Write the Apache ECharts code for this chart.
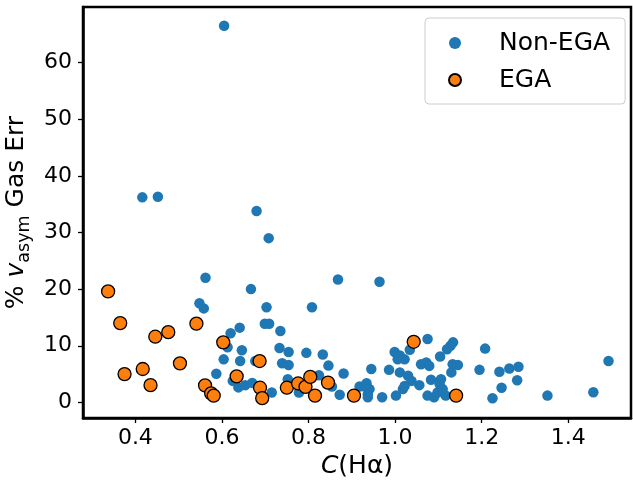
<!DOCTYPE html>
<html>
<head>
<meta charset="utf-8">
<script src="https://cdn.jsdelivr.net/npm/echarts@6/dist/echarts.min.js"></script>
<style>
html,body{margin:0;padding:0;background:#fff;}
#chart{width:633px;height:484px;}
</style>
</head>
<body>
<div id="chart"></div>
<script>
const FONT = 'DejaVu Sans';

const xTicks = [0.4, 0.6, 0.8, 1.0, 1.2, 1.4];
const yTicks = [0, 10, 20, 30, 40, 50, 60];

const nonEgaX = [
  0.605, 0.416, 0.452, 0.680, 0.708, 0.562, 0.868, 0.964, 0.667,
  0.548, 0.558, 0.703, 0.808, 0.699, 0.709, 0.641, 0.735, 0.620, 0.613, 0.646,
  0.733, 0.754, 0.795, 0.833, 0.604, 0.642, 0.677, 0.739, 0.754, 0.846,
  0.881, 0.587, 0.824, 0.625, 0.638, 0.654, 0.670, 0.715, 0.778, 0.854,
  0.872, 0.918, 0.752,
  1.075, 1.134, 1.128, 1.120, 1.208, 0.999, 1.011, 1.034, 1.022, 1.006,
  1.104, 1.060, 1.072, 1.079, 1.133, 1.145, 1.130, 0.945, 0.986, 1.011,
  1.030, 1.038, 1.056, 1.083, 1.106, 1.103, 0.934, 0.930, 0.941, 0.937,
  0.937, 0.970, 1.002, 1.018, 1.022, 1.075, 1.090, 1.098, 1.110, 1.117,
  1.195, 1.241, 1.264, 1.285, 1.282, 1.246, 1.225, 1.352, 1.458, 1.493
];
const nonEgaY = [
  66.5, 36.2, 36.3, 33.8, 29.0, 22.0, 21.7, 21.3, 20.0,
  17.5, 16.6, 16.8, 16.8, 13.9, 13.9, 13.2, 12.6, 12.2, 9.75, 9.2,
  9.6, 8.9, 8.75, 8.45, 7.6, 7.3, 7.3, 6.9, 6.6, 6.5,
  5.1, 5.05, 4.8, 3.8, 2.65, 3.05, 3.45, 1.75, 1.75, 2.8,
  1.35, 2.8, 4.1,
  11.2, 10.6, 10.0, 9.4, 9.5, 8.9, 8.3, 9.3, 7.6, 7.6,
  8.1, 6.75, 7.05, 6.45, 6.75, 6.6, 5.3, 5.9, 5.75, 5.3,
  4.7, 3.8, 3.05, 4.0, 4.1, 3.2, 3.4, 2.8, 2.35, 1.45,
  0.9, 0.9, 1.2, 2.35, 2.9, 1.2, 0.9, 1.75, 2.35, 1.2,
  5.75, 5.4, 6.0, 6.3, 3.9, 2.6, 0.75, 1.2, 1.8, 7.3
];

const egaX = [
  0.337, 0.365, 0.541, 0.476, 0.446, 0.603, 0.687, 0.503, 0.417, 0.375,
  0.634, 0.435, 0.561, 0.575, 0.581, 0.688, 0.693, 0.750, 0.776, 0.793,
  0.804, 0.815, 0.845, 0.905, 1.043, 1.141
];
const egaY = [
  19.6, 14.0, 13.9, 12.4, 11.6, 10.6, 7.3, 6.9, 5.9, 5.0,
  4.6, 3.05, 3.0, 1.6, 1.2, 2.6, 0.75, 2.6, 3.35, 2.75,
  4.5, 1.2, 3.5, 1.2, 10.7, 1.2
];

const nonEga = nonEgaX.map((x, i) => [x, nonEgaY[i]]);
const ega = egaX.map((x, i) => [x, egaY[i]]);

const chart = echarts.init(document.getElementById('chart'), null, {renderer: 'canvas'});
chart.setOption({
  animation: false,
  backgroundColor: '#ffffff',
  grid: {
    left: 83, top: 7, right: 2, bottom: 66,
    containLabel: false,
    outerBoundsMode: 'none',
    show: true, borderColor: '#000', borderWidth: 2.5, backgroundColor: 'transparent'
  },
  legend: {
    orient: 'vertical',
    left: 425, top: 18,
    padding: [11, 15, 10, 23],
    itemGap: 9,
    itemWidth: 22, itemHeight: 12,
    borderColor: '#cccccc', borderWidth: 1, borderRadius: 4,
    backgroundColor: 'rgba(255,255,255,0.8)',
    textStyle: {fontFamily: FONT, fontSize: 25, color: '#000', lineHeight: 28, padding: [0, 0, 0, 28]},
    data: [{name: 'Non-EGA', icon: 'circle'}, {name: 'EGA', icon: 'circle'}]
  },
  xAxis: {
    type: 'value',
    min: 0.279, max: 1.545,
    name: '{i|C}{t|(Hα)}',
    nameLocation: 'middle',
    nameGap: 35,
    nameTextStyle: {
      rich: {
        i: {fontFamily: FONT, fontSize: 25, fontStyle: 'italic', color: '#000'},
        t: {fontFamily: FONT, fontSize: 25, color: '#000'}
      }
    },
    axisLine: {show: true, onZero: false, lineStyle: {color: '#000', width: 2.5}},
    axisTick: {show: true, inside: false, length: 5, lineStyle: {color: '#000', width: 1.3}, customValues: xTicks},
    axisLabel: {
      show: true, margin: 9, fontFamily: FONT, fontSize: 22, color: '#000',
      customValues: xTicks,
      formatter: v => v.toFixed(1)
    },
    splitLine: {show: false}
  },
  yAxis: {
    type: 'value',
    min: -2.75, max: 69.8,
    name: '{t|% }{v|v}{s|asym}{t| Gas Err}',
    nameLocation: 'middle',
    nameRotate: 90,
    nameGap: 47,
    nameTextStyle: {
      rich: {
        t: {fontFamily: FONT, fontSize: 25, color: '#000', lineHeight: 34},
        v: {fontFamily: FONT, fontSize: 25, fontStyle: 'italic', color: '#000', lineHeight: 34},
        s: {fontFamily: FONT, fontSize: 17.5, color: '#000', verticalAlign: 'bottom', lineHeight: 19}
      }
    },
    axisLine: {show: true, onZero: false, lineStyle: {color: '#000', width: 2.5}},
    axisTick: {show: true, inside: false, length: 5, lineStyle: {color: '#000', width: 1.3}, customValues: yTicks},
    axisLabel: {
      show: true, margin: 11, fontFamily: FONT, fontSize: 22, color: '#000',
      customValues: yTicks
    },
    splitLine: {show: false}
  },
  series: [
    {
      name: 'Non-EGA', type: 'scatter', data: nonEga,
      symbol: 'circle', symbolSize: 10.5,
      itemStyle: {color: '#1f77b4', opacity: 1},
      z: 2
    },
    {
      name: 'EGA', type: 'scatter', data: ega,
      symbol: 'circle', symbolSize: 13,
      itemStyle: {color: '#ff7f0e', borderColor: '#000', borderWidth: 1.3, opacity: 1},
      z: 3
    }
  ]
});
</script>
</body>
</html>
